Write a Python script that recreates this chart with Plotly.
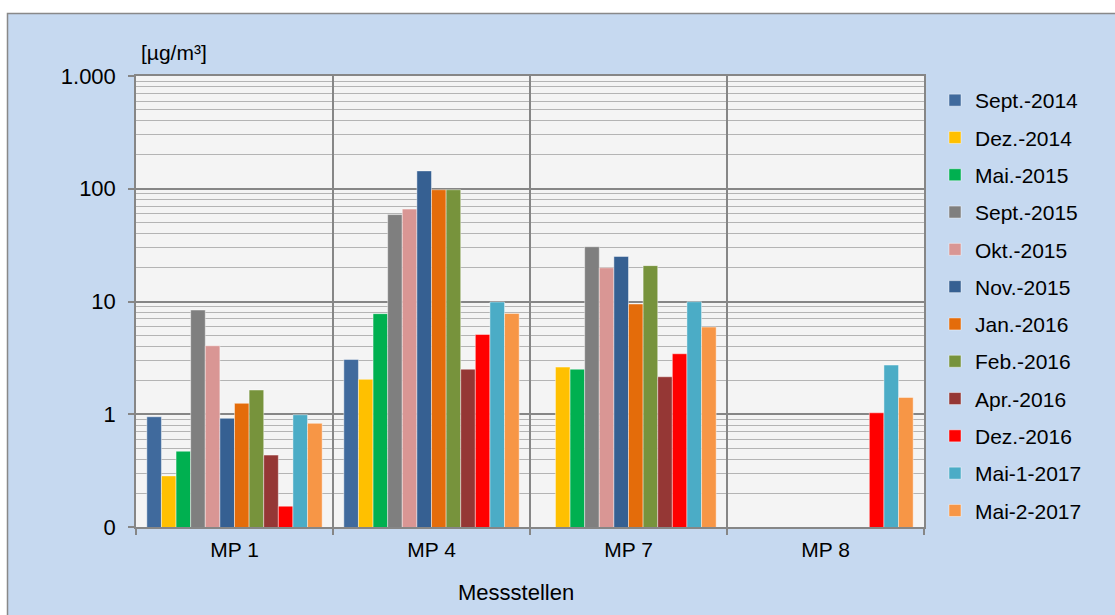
import plotly.graph_objects as go

categories = ["MP 1", "MP 4", "MP 7", "MP 8"]

series_names = ["Sept.-2014", "Dez.-2014", "Mai.-2015", "Sept.-2015", "Okt.-2015",
                "Nov.-2015", "Jan.-2016", "Feb.-2016", "Apr.-2016", "Dez.-2016",
                "Mai-1-2017", "Mai-2-2017"]

sept_2014 = [0.95, 3.06, None, None]
dez_2014 = [0.284, 2.04, 2.62, None]
mai_2015 = [0.47, 7.8, 2.51, None]
sept_2015 = [8.4, 59.0, 30.6, None]
okt_2015 = [4.05, 66.0, 19.9, None]
nov_2015 = [0.92, 144.0, 25.1, None]
jan_2016 = [1.25, 98.0, 9.5, None]
feb_2016 = [1.64, 98.0, 20.8, None]
apr_2016 = [0.434, 2.51, 2.15, None]
dez_2016 = [0.153, 5.1, 3.44, 1.03]
mai1_2017 = [0.99, 9.9, 9.95, 2.73]
mai2_2017 = [0.83, 7.84, 5.93, 1.41]

series_values = [sept_2014, dez_2014, mai_2015, sept_2015, okt_2015, nov_2015,
                 jan_2016, feb_2016, apr_2016, dez_2016, mai1_2017, mai2_2017]

colors = ["#406A9D", "#FFC000", "#00B050", "#7F7F7F", "#D99694", "#366092",
          "#E46C0A", "#77933C", "#953735", "#FF0000", "#4BACC6", "#F79646"]

y_tickvals = [0.1, 1, 10, 100, 1000]
y_ticktext = ["0", "1", "10", "100", "1.000"]
minor_vals = [m * 10 ** e for e in range(-1, 3) for m in range(2, 10)]

FONT = "Liberation Sans, Arial, sans-serif"

fig = go.Figure()
for i, (name, vals, col) in enumerate(zip(series_names, series_values, colors)):
    fig.add_trace(go.Bar(
        x=categories, y=vals, name=name, legendgroup=name,
        marker=dict(color=col, line=dict(color="rgba(255,255,255,0.55)", width=0.8)),
    ))

# plot-area pixel geometry
L, R, T, B = 136, 924, 76, 527
W, H = R - L, B - T
def px(x):
    return (x - L) / W
def py(y):
    return (B - y) / H

fig.update_layout(
    width=1115, height=615,
    margin=dict(l=L, r=1115 - R, t=T, b=615 - B),
    paper_bgcolor="#C6D9F0",
    plot_bgcolor="#F4F4F4",
    barmode="group",
    bargap=0.11,
    bargroupgap=0,
    font=dict(family=FONT, size=21, color="#000000"),
    showlegend=True,
    legend=dict(
        x=px(935), y=py(80), xanchor="left", yanchor="top",
        bgcolor="rgba(0,0,0,0)",
        font=dict(family=FONT, size=21, color="#000000"),
        tracegroupgap=7,
        itemwidth=30,
    ),
    xaxis=dict(
        type="category",
        tickson="boundaries",
        showgrid=True, gridcolor="#868686", gridwidth=1.5,
        showline=True, linecolor="#868686", linewidth=1.5, mirror=True,
        ticks="outside", ticklen=6, tickcolor="#868686", tickwidth=1.5,
        ticklabelstandoff=3,
        tickfont=dict(family=FONT, size=21, color="#000000"),
        zeroline=False,
    ),
    yaxis=dict(
        type="log",
        range=[-1, 3],
        tickmode="array", tickvals=y_tickvals, ticktext=y_ticktext,
        showgrid=True, gridcolor="#868686", gridwidth=1.5,
        showline=True, linecolor="#868686", linewidth=1.5, mirror=True,
        ticks="outside", ticklen=6, tickcolor="#868686", tickwidth=1.5,
        ticklabelstandoff=8,
        tickfont=dict(family=FONT, size=22, color="#000000"),
        minor=dict(tickmode="array", tickvals=minor_vals, showgrid=True,
                   gridcolor="#B4B4B4", gridwidth=1, ticks=""),
        zeroline=False,
    ),
    annotations=[
        dict(text="[µg/m³]", xref="paper", yref="paper", x=px(139), y=py(52),
             xanchor="left", yanchor="middle", showarrow=False,
             font=dict(family=FONT, size=21, color="#000000")),
        dict(text="Messstellen", xref="paper", yref="paper", x=px(516), y=py(592),
             xanchor="center", yanchor="middle", showarrow=False,
             font=dict(family=FONT, size=22, color="#000000")),
    ],
    shapes=[
        dict(type="rect", xref="paper", yref="paper", x0=px(-20), x1=px(7),
             y0=py(700), y1=py(-20), fillcolor="#FFFFFF", line=dict(width=0), layer="above"),
        dict(type="rect", xref="paper", yref="paper", x0=px(-20), x1=px(1200),
             y0=py(13), y1=py(-20), fillcolor="#FFFFFF", line=dict(width=0), layer="above"),
        dict(type="rect", xref="paper", yref="paper", x0=px(7.5), x1=px(1200),
             y0=py(700), y1=py(13.5), fillcolor="rgba(0,0,0,0)",
             line=dict(color="#898989", width=1.5), layer="above"),
    ],
)

fig.write_html("out.html")
